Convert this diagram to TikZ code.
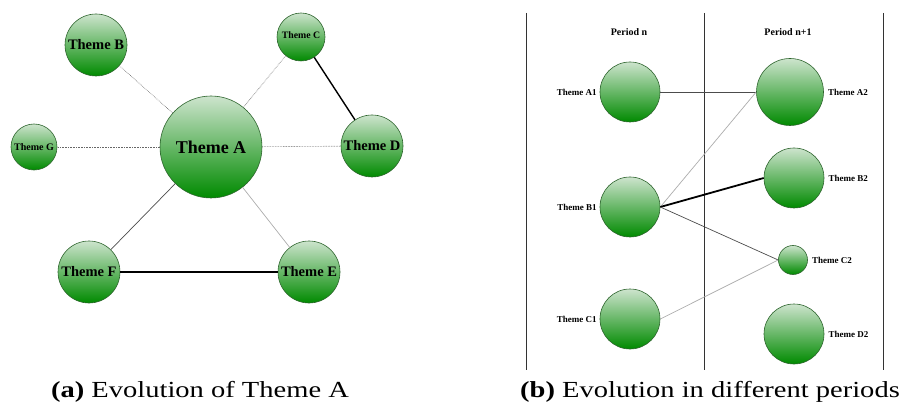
\documentclass[tikz,border=0pt]{standalone}
\usepackage{fontspec}
\setmainfont{Liberation Serif}
\usepackage{xcolor}
\usetikzlibrary{positioning}
\definecolor{themetop}{RGB}{205,228,205}
\definecolor{themebot}{RGB}{0,138,0}
\definecolor{themeedge}{RGB}{45,100,45}
\tikzstyle{theme} = [circle, draw=themeedge, line width=0.6pt,
top color=themetop, bottom color=themebot, inner sep=0pt, font=\bfseries]
\tikzstyle{weaklink} = [black!60, line width=0.6pt, densely dotted]
\tikzstyle{midlink} = [black!70, line width=0.7pt]
\tikzstyle{lightlink} = [gray!65, line width=0.7pt]
\tikzstyle{stronglink} = [black, line width=1.8pt]
\tikzstyle{themelabel} = [font=\bfseries\fontsize{9}{9}\selectfont, inner sep=0pt]
\tikzstyle{caption} = [font=\fontsize{23}{23}\selectfont, inner sep=0pt]

\begin{document}
\begin{tikzpicture}[x=1pt, y=-1pt]
        \useasboundingbox (0,0) rectangle (913,406);
        % (a) evolution of theme A
        \node [theme, minimum size=102pt, font=\bfseries\fontsize{18}{18}\selectfont] (a) at (211,147) {Theme A};
        \node [theme, minimum size=62pt, font=\bfseries\fontsize{14.5}{14.5}\selectfont] (b) at (96,45) {Theme B};
        \node [theme, minimum size=48pt, font=\bfseries\fontsize{9.8}{9.8}\selectfont] (c) at (301,37) {\raisebox{4pt}{Theme C}};
        \node [theme, minimum size=62pt, font=\bfseries\fontsize{14.5}{14.5}\selectfont] (d) at (372,146) {Theme D};
        \node [theme, minimum size=62pt, font=\bfseries\fontsize{14.5}{14.5}\selectfont] (e) at (309,272) {Theme E};
        \node [theme, minimum size=62pt, font=\bfseries\fontsize{14.5}{14.5}\selectfont] (f) at (89,272) {Theme F};
        \node [theme, minimum size=46pt, font=\bfseries\fontsize{10}{10}\selectfont] (g) at (34,147) {Theme G};
        \foreach \t in {b,c,d,g}
            \draw [weaklink] (a) -- (\t);
        \draw [lightlink] (a) -- (e);
        \draw [midlink] (a) -- (f);
        \draw [stronglink, line width=1.4pt] (c) -- (d);
        \draw [stronglink] (f) -- (e);
        \node [caption] (capa) at (200,392) {\scalebox{1.24}[1]{\textbf{(a)} Evolution of Theme A}};

        % (b) evolution in different periods
        \foreach \x in {526,704,883}
            \draw [black!80, line width=0.6pt] (\x,13) -- (\x,370);
        \node [themelabel, font=\bfseries\fontsize{10}{10}\selectfont] (pn) at (629,32) {Period n};
        \node [themelabel, font=\bfseries\fontsize{10}{10}\selectfont] (pn1) at (788,32) {Period n+1};
        \node [theme, minimum size=60pt] (a1) at (630,92) {};
        \node [theme, minimum size=60pt] (b1) at (630,207) {};
        \node [theme, minimum size=60pt] (c1) at (630,319) {};
        \node [theme, minimum size=67pt] (a2) at (790,92) {};
        \node [theme, minimum size=60pt] (b2) at (794,178) {};
        \node [theme, minimum size=29pt] (c2) at (793,260) {};
        \node [theme, minimum size=60pt] (d2) at (794,334) {};
        \node [themelabel, left=3pt of a1] {Theme A1};
        \node [themelabel, left=3pt of b1] {Theme B1};
        \node [themelabel, left=3pt of c1] {Theme C1};
        \node [themelabel, right=4pt of a2] {Theme A2};
        \node [themelabel, right=4pt of b2] {Theme B2};
        \node [themelabel, right=4pt of c2] {Theme C2};
        \node [themelabel, right=4pt of d2] {Theme D2};
        \draw [midlink] (a1.east) -- (a2.west);
        \draw [lightlink] (b1.east) -- (a2.west);
        \draw [stronglink] (b1.east) -- (b2.west);
        \draw [midlink] (b1.east) -- (c2.west);
        \draw [lightlink] (c1.east) -- (c2.west);
        \node [caption] (capb) at (710,392) {\scalebox{1.24}[1]{\textbf{(b)} Evolution in different periods}};
    \end{tikzpicture}
\end{document}
